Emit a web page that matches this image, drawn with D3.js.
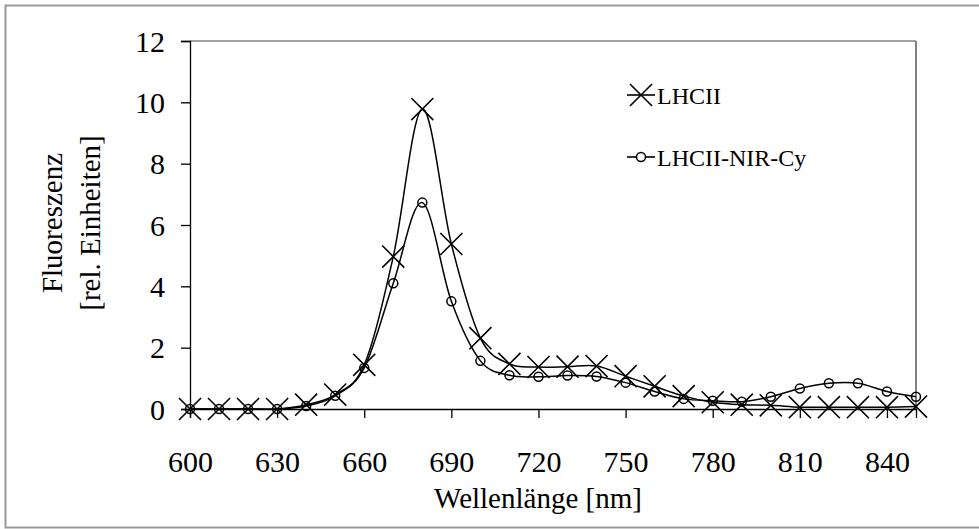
<!DOCTYPE html>
<html>
  <head>
  <meta charset="utf-8">
  <title>Fluoreszenz</title>
  <style>
    body, html {
      margin: 0;
      padding: 0;
      background: #fff;
    }
    text {
      font-family: "Liberation Serif", "Times New Roman", serif;
      fill: #000;
    }
  </style>
  </head>
  <body>

  <svg id="svg" width="979" height="529"></svg>

  <script src="https://d3js.org/d3.v7.min.js"></script>
  <script>
    // wavelength in nm
    const wavelengths = [600, 610, 620, 630, 640, 650, 660, 670, 680, 690, 700, 710, 720,
                         730, 740, 750, 760, 770, 780, 790, 800, 810, 820, 830, 840, 850]
    const lhcii = [0, 0, 0, 0, 0.14, 0.47, 1.44, 4.97, 9.78, 5.38, 2.31, 1.47, 1.37,
                   1.38, 1.4, 1.07, 0.74, 0.42, 0.22, 0.14, 0.12, 0.06, 0.06, 0.06, 0.06, 0.08]
    const nirCy = [0, 0, 0, 0, 0.1, 0.43, 1.34, 4.1, 6.73, 3.51, 1.57, 1.1, 1.05,
                   1.09, 1.06, 0.86, 0.57, 0.33, 0.27, 0.24, 0.4, 0.67, 0.84, 0.84, 0.57, 0.4]
    const xTicks = [600, 630, 660, 690, 720, 750, 780, 810, 840]
    const yTicks = [0, 2, 4, 6, 8, 10, 12]
    const seriesNames = ['LHCII', 'LHCII-NIR-Cy']

    const margin = { top: 41, right: 63, bottom: 120, left: 190 }
    const width = 979 - margin.left - margin.right
    const height = 529 - margin.top - margin.bottom

    const svg = d3.select('#svg')

    // outer frame
    svg.append('rect')
      .attr('x', 5.5).attr('y', 5.5)
      .attr('width', 985).attr('height', 522)
      .attr('fill', 'none')
      .attr('stroke', '#999')
      .attr('stroke-width', 2)

    const xscale = d3.scaleLinear()
      .domain([600, 850])
      .range([margin.left, margin.left + width])
    const yscale = d3.scaleLinear()
      .domain([0, 12])
      .range([margin.top + height, margin.top])

    // plot area border top / right
    svg.append('line')
      .attr('x1', margin.left).attr('x2', margin.left + width)
      .attr('y1', margin.top).attr('y2', margin.top)
      .attr('stroke', '#444').attr('stroke-width', 1.2)
    svg.append('line')
      .attr('x1', margin.left + width).attr('x2', margin.left + width)
      .attr('y1', margin.top).attr('y2', margin.top + height)
      .attr('stroke', '#808080').attr('stroke-width', 2)

    const leftAxis = d3.axisLeft(yscale)
      .tickValues(yTicks)
      .tickSize(9)
      .tickPadding(16)
    const bottomAxis = d3.axisBottom(xscale)
      .tickValues(xTicks)
      .tickSize(9)
      .tickPadding(32)

    const gy = svg.append('g')
      .attr('transform', `translate(${margin.left}, 0)`)
      .call(leftAxis)
    const gx = svg.append('g')
      .attr('transform', `translate(0, ${margin.top + height})`)
      .call(bottomAxis)

    for (const g of [gx, gy]) {
      g.select('.domain').attr('stroke', '#000').attr('stroke-width', 1.3)
      g.selectAll('.tick line').attr('stroke', '#000').attr('stroke-width', 1.3)
      g.selectAll('.tick text')
        .attr('font-family', '"Liberation Serif", serif')
        .attr('font-size', 30)
        .attr('fill', '#000')
    }
    gy.selectAll('.tick text').attr('dy', '0.34em')
    gx.selectAll('.tick text').attr('dy', '0.72em')

    // axis titles
    svg.append('text')
      .attr('x', margin.left + width / 2 - 15)
      .attr('y', 508)
      .attr('text-anchor', 'middle')
      .attr('font-size', 29)
      .text('Wellenlänge [nm]')

    const yTitle = svg.append('text')
      .attr('transform', `translate(62, ${margin.top + height / 2 - 2}) rotate(-90)`)
      .attr('text-anchor', 'middle')
      .attr('font-size', 29)
    yTitle.append('tspan').attr('x', 0).attr('y', 0).text('Fluoreszenz')
    yTitle.append('tspan').attr('x', 0).attr('y', 38).text('[rel. Einheiten]')

    const line = d3.line()
      .x((d, i) => xscale(wavelengths[i]))
      .y(d => yscale(d))
      .curve(d3.curveCatmullRom.alpha(0))

    const plot = svg.append('g')

    // series 1: crosses
    plot.append('path')
      .datum(lhcii)
      .attr('d', line)
      .attr('fill', 'none')
      .attr('stroke', '#000')
      .attr('stroke-width', 1.5)

    const cross = d3.symbol().type(d3.symbolX).size(320)
    plot.selectAll('.cross')
      .data(lhcii)
      .enter()
      .append('path')
      .attr('class', 'cross')
      .attr('transform', (d, i) => `translate(${xscale(wavelengths[i])}, ${yscale(d)})`)
      .attr('d', cross)
      .attr('fill', 'none')
      .attr('stroke', '#000')
      .attr('stroke-width', 1.6)

    // series 2: circles
    plot.append('path')
      .datum(nirCy)
      .attr('d', line)
      .attr('fill', 'none')
      .attr('stroke', '#000')
      .attr('stroke-width', 1.5)

    plot.selectAll('.circ')
      .data(nirCy)
      .enter()
      .append('circle')
      .attr('class', 'circ')
      .attr('cx', (d, i) => xscale(wavelengths[i]))
      .attr('cy', d => yscale(d))
      .attr('r', 4.5)
      .attr('fill', 'none')
      .attr('stroke', '#000')
      .attr('stroke-width', 1.5)

    // legend
    const legend = svg.append('g').attr('transform', 'translate(627, 95)')
    seriesNames.forEach((name, i) => {
      const row = legend.append('g').attr('transform', `translate(0, ${i * 62})`)
      row.append('line')
        .attr('x1', 0).attr('x2', 28)
        .attr('stroke', '#000').attr('stroke-width', 1.6)
      if (i === 0) {
        row.append('path')
          .attr('transform', 'translate(14, 0)')
          .attr('d', cross)
          .attr('fill', 'none')
          .attr('stroke', '#000')
          .attr('stroke-width', 1.6)
      } else {
        row.append('circle')
          .attr('cx', 14).attr('r', 4.5)
          .attr('fill', '#fff')
          .attr('stroke', '#000')
          .attr('stroke-width', 1.5)
      }
      row.append('text')
        .attr('x', 30)
        .attr('y', 9)
        .attr('font-size', 24)
        .text(name)
    })
  </script>
  </body>
</html>
